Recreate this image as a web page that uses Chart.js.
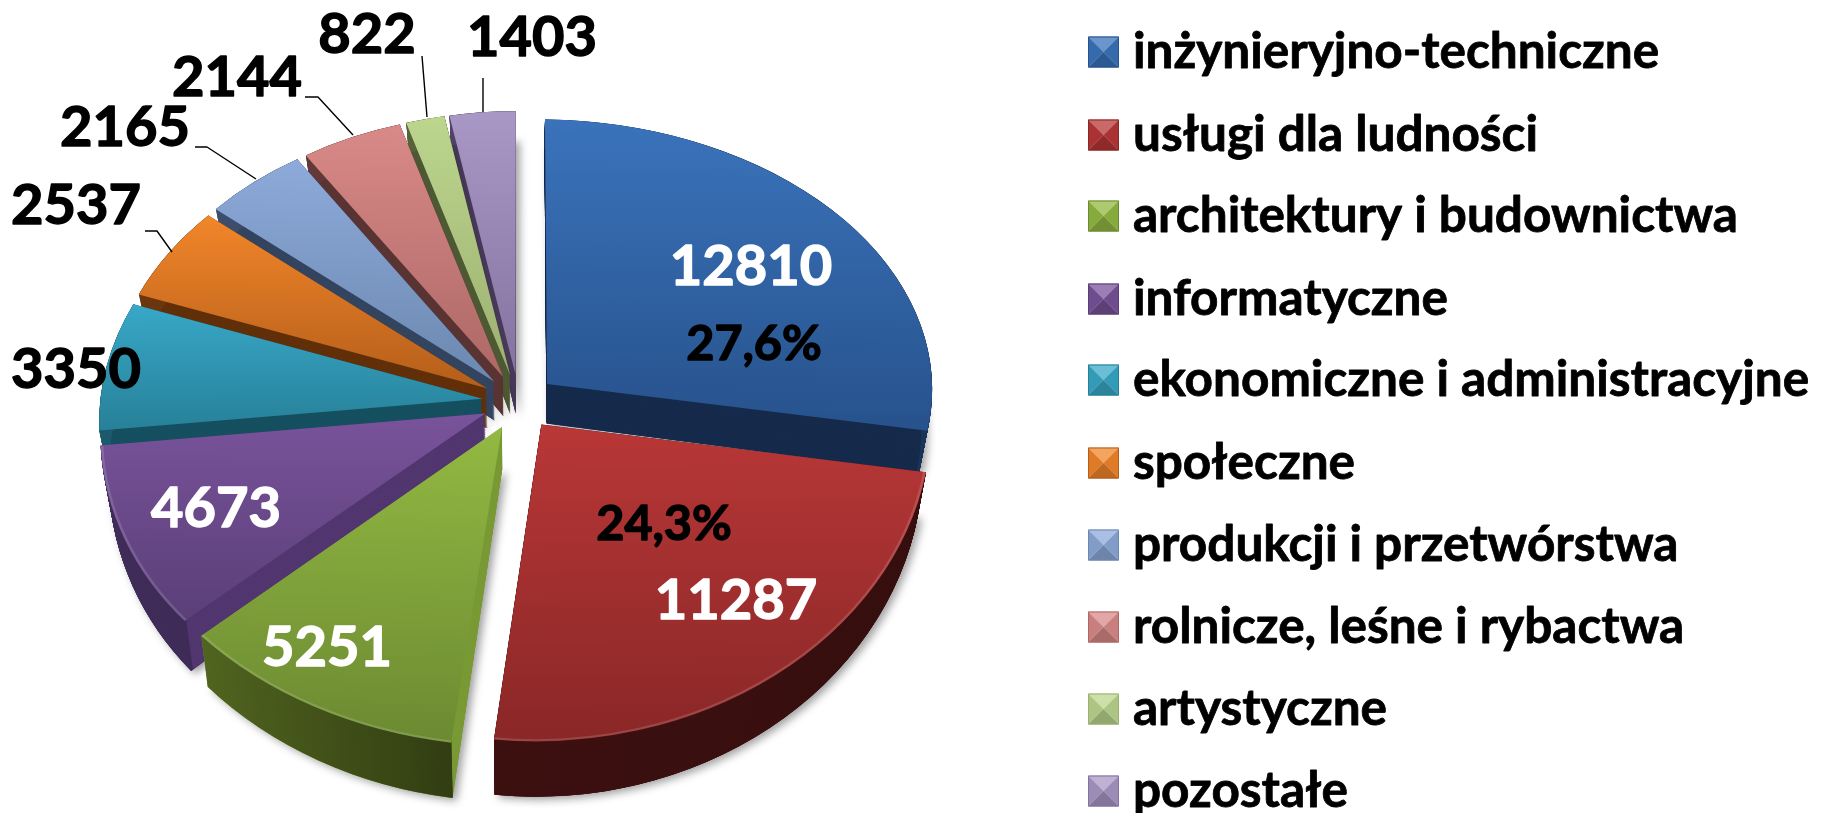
<!DOCTYPE html>
<html><head><meta charset="utf-8">
<style>html,body{margin:0;padding:0;background:#fff;overflow:hidden}canvas{display:block}</style>
<script src="https://cdn.jsdelivr.net/npm/chart.js@4/dist/chart.umd.min.js"></script>
</head><body><canvas id="c" width="1822" height="813"></canvas>
<script>
const categories = ['inżynieryjno-techniczne','usługi dla ludności','architektury i budownictwa','informatyczne','ekonomiczne i administracyjne','społeczne','produkcji i przetwórstwa','rolnicze, leśne i rybactwa','artystyczne','pozostałe'];
const values = [12810,11287,5251,4673,3350,2537,2165,2144,822,1403];
const percentLabels = {0:'27,6%',1:'24,3%'};

const topLight = ['#3a73bb','#b93737','#93b942','#79539b','#38a8c8','#f2862a','#8eaada','#d98a88','#bcd68e','#a997c6'];
const topDark  = ['#27528c','#8a2727','#6c8a32','#5a3f78','#278098','#b45e1a','#6b88b0','#ad6866','#9cb070','#84729f'];
const cutColor = ['#162b4c','#3a1010','#7a9a36','#51366f','#165060','#62300a','#344560','#5a3333','#4f5a35','#4a3c5c'];
const wallLeft = ['#1a3358','#3d1010','#50641f','#3f2c59','#1a5a6c','#6b350d','#3c4e6c','#623838','#56623a','#52426a'];
const wallRight= ['#1a3358','#360e0e','#2c3610','#3a2852','#1a5a6c','#6b350d','#3c4e6c','#623838','#56623a','#52426a'];

const valuePos = [[751,267],[736,601],[327,648],[216,509],[76,370],[76,206],[125,128],[237,78],[367,35],[532,38]];
const valueColor = ['#fff','#fff','#fff','#fff','#000','#000','#000','#000','#000','#000'];
const percentPos = {0:[754,344],1:[664,524]};
const leaders = {5:[[145,231],[157,231],[172,252]],6:[[195,147],[207,147],[256,179]],7:[[305,97],[318,97],[353,135]],8:[[422,56],[427,117]],9:[[483,78],[483,112]]};
const legendY = [52,135,216,299,380,463,545,627,709,791];

const view = {cx:519, cy:402, k:0.755, p:0.08, explode:37, sx:0.98, d0:40, dy:0.044, y0:395};
const FONT = 'Lato, Carlito, sans-serif';

const total = values.reduce((a,b)=>a+b,0);
function sliceAngles(i){
  let s=0; for(let j=0;j<i;j++) s+=values[j];
  const a0=-Math.PI/2+s/total*2*Math.PI, a1=a0+values[i]/total*2*Math.PI;
  return [a0,a1];
}
function bounds(i){
  const [a0,a1]=sliceAngles(i);
  let xs=[0],ys=[0];
  for(let n=0;n<=24;n++){const a=a0+(a1-a0)*n/24;xs.push(Math.cos(a));ys.push(Math.sin(a));}
  return {x0:Math.min(...xs),x1:Math.max(...xs),y0:Math.min(...ys),y1:Math.max(...ys)};
}
function topFill(c){
  const i=c.dataIndex, chart=c.chart, a=chart.chartArea;
  if(!a||i===undefined) return topLight[i||0];
  const R=Math.min(a.right-a.left,a.bottom-a.top)/2, y=(a.top+a.bottom)/2, b=bounds(i);
  const g=chart.ctx.createLinearGradient(0,y+b.y0*R,0,y+b.y1*R);
  g.addColorStop(0,topLight[i]); g.addColorStop(1,topDark[i]);
  return g;
}
// Perspective of the pie plane; each slice uses the affine map that agrees with it at the slice's apex and two rim ends.
function project(X,Y,R){
  const w=1-view.p*Y/R;
  return [view.cx+X/w, view.cy+view.k*Y/w];
}
function sliceMatrix(el){
  const R=el.outerRadius, mid=(el.startAngle+el.endAngle)/2, v=view;
  const Ex=Math.cos(mid)*v.explode, Ey=Math.sin(mid)*v.explode;
  const u0=[R*Math.cos(el.startAngle),R*Math.sin(el.startAngle)], u1=[R*Math.cos(el.endAngle),R*Math.sin(el.endAngle)];
  const A=project(Ex,Ey,R), P0=project(Ex+u0[0],Ey+u0[1],R), P1=project(Ex+u1[0],Ey+u1[1],R);
  const t0=[P0[0]-A[0],P0[1]-A[1]], t1=[P1[0]-A[0],P1[1]-A[1]];
  const det=u0[0]*u1[1]-u1[0]*u0[1];
  const a=(t0[0]*u1[1]-t1[0]*u0[1])/det, c=(t1[0]*u0[0]-t0[0]*u1[0])/det;
  const b=(t0[1]*u1[1]-t1[1]*u0[1])/det, d=(t1[1]*u0[0]-t0[1]*u1[0])/det;
  return [a,b,c,d,A[0]-a*el.x-c*el.y,A[1]-b*el.x-d*el.y];
}
function applyLayer(ctx,t){
  const v=view, sx=1+(v.sx-1)*t, sy=1+v.dy*t;
  ctx.transform(sx,0,0,sy,v.cx*(1-sx),(v.d0-v.dy*v.y0)*t);
}
const pie3d={
  id:'pie3d',
  beforeDatasetDraw(chart){
    const ctx=chart.ctx, els=chart.getDatasetMeta(0).data;
    const order=els.map((e,i)=>i).sort((a,b)=>{
      const m=i=>Math.sin((els[i].startAngle+els[i].endAngle)/2);
      return m(a)-m(b);
    });
    for(const i of order){
      const el=els[i], M=sliceMatrix(el), R=el.outerRadius, b=bounds(i);
      const sector=()=>{ctx.beginPath();ctx.moveTo(el.x,el.y);ctx.arc(el.x,el.y,R,el.startAngle,el.endAngle);ctx.closePath();};
      const wg=ctx.createLinearGradient(el.x+b.x0*R,0,el.x+b.x1*R,0);
      wg.addColorStop(0,wallLeft[i]); wg.addColorStop(1,wallRight[i]);
      const steps=64;
      ctx.save(); applyLayer(ctx,1); ctx.transform(...M);
      ctx.shadowColor='rgba(0,0,0,.38)'; ctx.shadowBlur=9; ctx.shadowOffsetX=4; ctx.shadowOffsetY=3;
      ctx.fillStyle=cutColor[i]; sector(); ctx.fill(); ctx.restore();
      for(let n=steps;n>=0;n--){
        ctx.save(); applyLayer(ctx,n/steps); ctx.transform(...M);
        ctx.fillStyle=cutColor[i]; sector(); ctx.fill(); ctx.restore();
      }
      for(let n=steps;n>=0;n--){
        ctx.save(); applyLayer(ctx,n/steps); ctx.transform(...M);
        ctx.strokeStyle=wg; ctx.lineWidth=2.5; ctx.beginPath();
        ctx.arc(el.x,el.y,R-1.2,el.startAngle,el.endAngle); ctx.stroke(); ctx.restore();
      }
      ctx.save(); ctx.transform(...M);
      el.draw(ctx);
      if(Math.sin((el.startAngle+el.endAngle)/2)>0.2){
        ctx.strokeStyle='rgba(255,255,255,.14)'; ctx.lineWidth=2.5; ctx.beginPath();
        ctx.arc(el.x,el.y,R-1.5,el.startAngle,el.endAngle); ctx.stroke();
      }
      ctx.restore();
    }
    return false;
  },
  afterDraw(chart){
    const ctx=chart.ctx;
    ctx.save();
    ctx.textBaseline='middle'; ctx.lineJoin='round';
    ctx.strokeStyle='#000'; ctx.lineWidth=1.4;
    for(const k in leaders){
      ctx.beginPath(); leaders[k].forEach((p,n)=>n?ctx.lineTo(p[0],p[1]):ctx.moveTo(p[0],p[1])); ctx.stroke();
    }
    ctx.textAlign='center'; ctx.font='bold 56px '+FONT;
    values.forEach((v,i)=>{
      ctx.fillStyle=valueColor[i]; ctx.strokeStyle=valueColor[i]; ctx.lineWidth=1.4;
      ctx.strokeText(String(v),valuePos[i][0],valuePos[i][1]);
      ctx.fillText(String(v),valuePos[i][0],valuePos[i][1]);
    });
    ctx.font='bold 48.5px '+FONT; ctx.fillStyle='#000'; ctx.strokeStyle='#000';
    for(const k in percentLabels){
      ctx.strokeText(percentLabels[k],percentPos[k][0],percentPos[k][1]);
      ctx.fillText(percentLabels[k],percentPos[k][0],percentPos[k][1]);
    }
    ctx.textAlign='left'; ctx.font='bold 49.5px '+FONT;
    categories.forEach((t,i)=>{
      const y=legendY[i], x0=1088, s=31, y0=y-s/2;
      const tri=(pts,col,shade)=>{ctx.beginPath();pts.forEach((p,n)=>n?ctx.lineTo(p[0],p[1]):ctx.moveTo(p[0],p[1]));ctx.closePath();ctx.fillStyle=col;ctx.fill();if(shade){ctx.fillStyle=shade;ctx.fill();}};
      const a=[x0,y0],b=[x0+s,y0],c=[x0+s,y0+s],d=[x0,y0+s],m=[x0+s/2,y0+s/2];
      tri([a,b,m],topLight[i],'rgba(255,255,255,.25)');
      tri([a,d,m],topLight[i],'rgba(0,0,0,.08)');
      tri([b,c,m],topLight[i],'rgba(0,0,0,.08)');
      tri([d,c,m],topLight[i],'rgba(0,0,0,.22)');
      ctx.strokeStyle=topDark[i]; ctx.lineWidth=1; ctx.strokeRect(x0+.5,y0+.5,s-1,s-1);
      ctx.fillStyle='#000'; ctx.strokeStyle='#000'; ctx.lineWidth=.8;
      ctx.strokeText(t,1133,y); ctx.fillText(t,1133,y);
    });
    ctx.restore();
  }
};
new Chart(document.getElementById('c'),{
  type:'pie',
  data:{labels:categories,datasets:[{data:values,backgroundColor:topFill,borderWidth:0,hoverOffset:0}]},
  options:{responsive:false,animation:false,events:[],
    layout:{padding:{top:24,bottom:25,left:0,right:1058}},
    plugins:{legend:{display:false},tooltip:{enabled:false},title:{display:false}}},
  plugins:[pie3d]
});
</script></body></html>
